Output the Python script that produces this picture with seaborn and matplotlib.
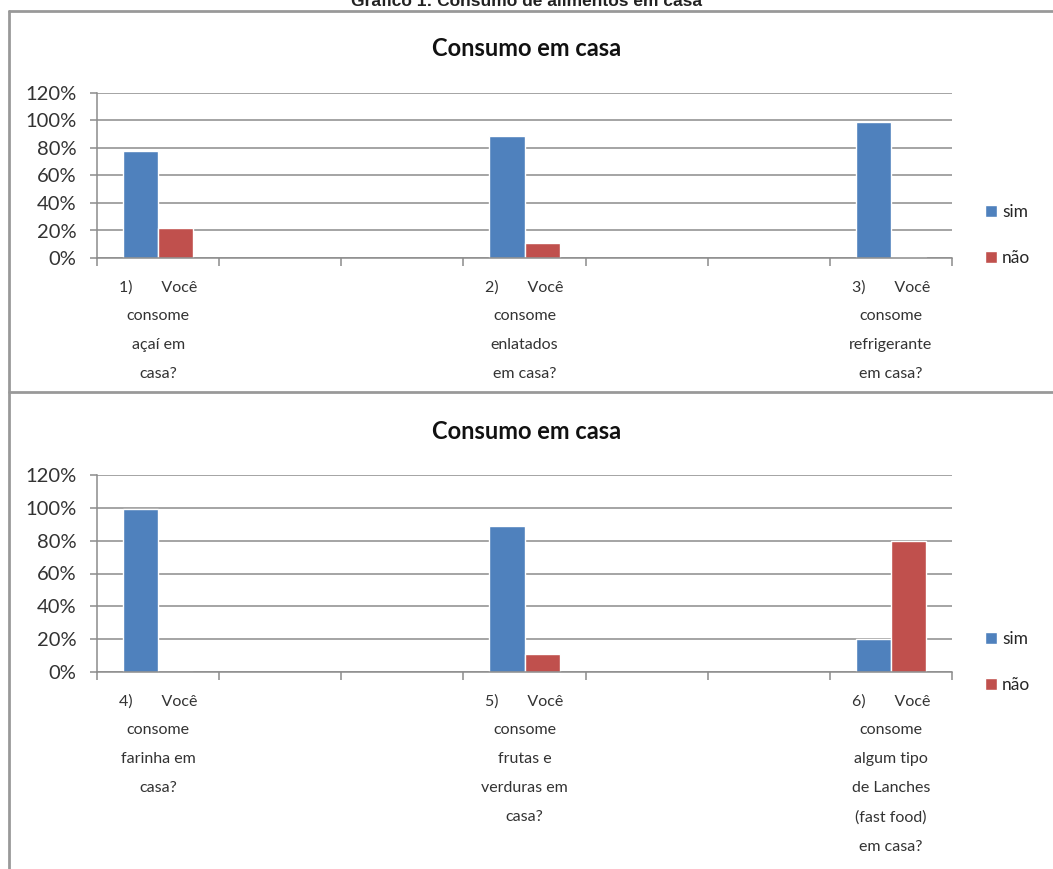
import numpy as np
import pandas as pd
import matplotlib
matplotlib.use("Agg")
import matplotlib.pyplot as plt
from matplotlib.lines import Line2D
from matplotlib.ticker import PercentFormatter
import seaborn as sns

# dados (fração de respostas)
perguntas_1 = ["1)       Você\nconsome\naçaí em\ncasa?",
               "2)       Você\nconsome\nenlatados\nem casa?",
               "3)       Você\nconsome\nrefrigerante\nem casa?"]
sim_1 = [0.78, 0.89, 0.99]
nao_1 = [0.22, 0.11, 0.01]

perguntas_2 = ["4)       Você\nconsome\nfarinha em\ncasa?",
               "5)       Você\nconsome\nfrutas e\nverduras em\ncasa?",
               "6)       Você\nconsome\nalgum tipo\nde Lanches\n(fast food)\nem casa?"]
sim_2 = [0.99, 0.89, 0.20]
nao_2 = [0.00, 0.11, 0.80]

respostas = ["sim", "não"]
cores = {"sim": "#4F81BD", "não": "#C0504D"}
cinza = "#8c8c8c"

sns.set_style("white")
plt.rcParams["font.family"] = ["Lato", "DejaVu Sans"]

W, H = 1053, 869
fig = plt.figure(figsize=(W / 100, H / 100), dpi=100)


def painel(rect, perguntas, sim, nao, leg_y):
    ax = fig.add_axes(rect)
    # espaços vazios entre as perguntas, como no grafico original
    ordem = [perguntas[0], "_a", "_b", perguntas[1], "_c", "_d", perguntas[2]]
    df = pd.DataFrame({
        "pergunta": perguntas * 2,
        "resposta": ["sim"] * 3 + ["não"] * 3,
        "valor": sim + nao,
    })
    sns.barplot(data=df, x="pergunta", y="valor", hue="resposta",
                order=ordem, hue_order=respostas, palette=cores,
                width=0.58, saturation=1, ax=ax)
    ax.set_xlim(-0.5, len(ordem) - 0.5)
    ax.set_ylim(0, 1.2)
    ax.set_yticks(np.arange(0, 1.21, 0.2))
    ax.yaxis.set_major_formatter(PercentFormatter(1, decimals=0))
    ax.yaxis.grid(True, color=cinza, lw=1.1)
    ax.set_axisbelow(True)
    ax.set_xlabel("")
    ax.set_ylabel("")

    rotulos = [p if not p.startswith("_") else "" for p in ordem]
    ax.set_xticks(np.arange(-0.5, len(ordem)), labels=[""] * (len(ordem) + 1))
    ax.set_xticks(range(len(ordem)), labels=rotulos, minor=True)
    for t in ax.get_xticklabels(minor=True):
        t.set_linespacing(2.35)
    ax.tick_params(axis="x", which="major", length=6, width=1.1, color=cinza,
                   direction="out", bottom=True)
    ax.tick_params(axis="x", which="minor", length=0, pad=16,
                   labelsize=11.5, labelcolor="#333333")
    ax.tick_params(axis="y", length=5, width=1.1, color=cinza, direction="out",
                   left=True, pad=10, labelsize=14.5, labelcolor="#333333")
    sns.despine(ax=ax, top=True, right=True)
    for s in ["left", "bottom"]:
        ax.spines[s].set_color(cinza)
        ax.spines[s].set_linewidth(1.1)

    ax.legend(loc="center left", bbox_to_anchor=(1.03, leg_y), frameon=False,
              borderaxespad=0, handlelength=0.7, handleheight=0.7,
              handletextpad=0.3, labelspacing=1.7, fontsize=12.5)
    return ax


painel([97 / W, 1 - 258 / H, 855 / W, 165 / H], perguntas_1, sim_1, nao_1, 0.14)
painel([97 / W, 1 - 672 / H, 855 / W, 197 / H], perguntas_2, sim_2, nao_2, 0.05)

fig.text(0.5, 1 - 48 / H, "Consumo em casa", ha="center", va="center",
         fontsize=17, fontweight="bold", color="#111111")
fig.text(0.5, 1 - 431 / H, "Consumo em casa", ha="center", va="center",
         fontsize=17, fontweight="bold", color="#111111")
fig.text(0.5, 1 - 1 / H, "Gráfico 1: Consumo de alimentos em casa", ha="center",
         va="center", fontsize=12.5, fontweight="bold",
         family=["Liberation Sans", "DejaVu Sans"], color="#222222")

# molduras dos dois graficos
borda = dict(color="#999999", lw=2)
fig.add_artist(Line2D([9 / W, 9 / W], [0, 1 - 11 / H], **borda))
fig.add_artist(Line2D([9 / W, 1], [1 - 11 / H, 1 - 11 / H], **borda))
fig.add_artist(Line2D([9 / W, 1], [1 - 392 / H, 1 - 392 / H], **borda))

fig.savefig("out.png", dpi=100, facecolor="white")
